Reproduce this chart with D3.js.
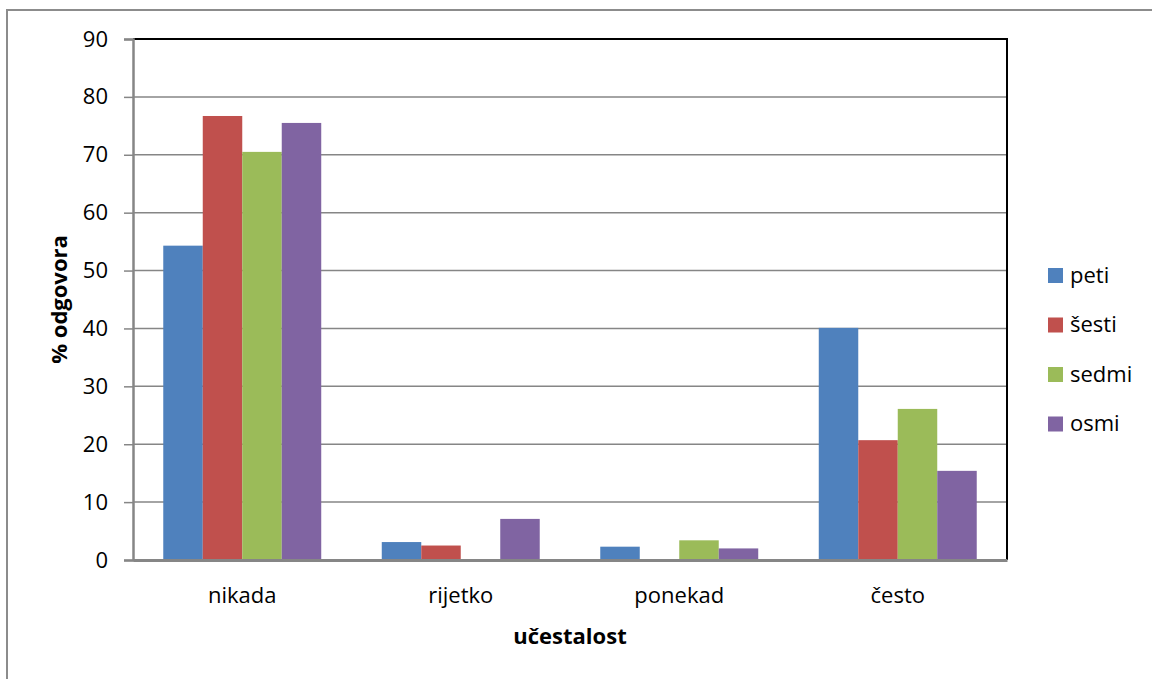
<!DOCTYPE html>
<html><head><meta charset="utf-8">
<script src="https://cdn.jsdelivr.net/npm/d3@7"></script>
<style>body{margin:0;background:#fff}svg{display:block}text{font-family:"Open Sans","Noto Sans",sans-serif;fill:#000}</style>
</head><body><svg width="1152" height="679"></svg>
<script>
const categories = ["nikada", "rijetko", "ponekad", "često"];
const seriesNames = ["peti", "šesti", "sedmi", "osmi"];
const peti  = [54.3, 3.1, 2.3, 40.1];
const sesti = [76.7, 2.5, 0, 20.7];
const sedmi = [70.5, 0, 3.4, 26.1];
const osmi  = [75.5, 7.1, 2.0, 15.4];
const yTicks = [0, 10, 20, 30, 40, 50, 60, 70, 80, 90];
const colors = ["#4F81BD", "#C0504D", "#9BBB59", "#8064A2"];
const seriesValues = [peti, sesti, sedmi, osmi];

const FS = "22px";
const svg = d3.select("svg");
svg.append("rect").attr("x", 7).attr("y", 10).attr("width", 1160).attr("height", 690)
  .attr("fill", "none").attr("stroke", "#8c8c8c").attr("stroke-width", 2);

const L = 133, R = 1007, T = 39, B = 560;
const x0 = d3.scaleBand().domain(categories).range([L, R]).paddingInner(0.277).paddingOuter(0.1385);
const x1 = d3.scaleBand().domain(seriesNames).range([0, x0.bandwidth()]);
const y = d3.scaleLinear().domain([0, 90]).range([B, T]);

// gridlines
svg.append("g").selectAll("line").data(yTicks.filter(d => d > 0 && d < 90)).join("line")
  .attr("x1", L).attr("x2", R).attr("y1", d => y(d)).attr("y2", d => y(d))
  .attr("stroke", "#868686").attr("stroke-width", 1.5);

// bars
const g = svg.append("g");
seriesNames.forEach((s, i) => {
  g.selectAll(null).data(categories).join("rect")
    .attr("x", c => x0(c) + x1(s))
    .attr("width", x1.bandwidth())
    .attr("y", (c, j) => y(seriesValues[i][j]))
    .attr("height", (c, j) => B - y(seriesValues[i][j]))
    .attr("fill", colors[i]);
});

// plot border top/right
svg.append("path").attr("d", `M${L},${T}H${R}V${B}`).attr("fill", "none").attr("stroke", "#000").attr("stroke-width", 2);

// y axis
const ya = svg.append("g").attr("transform", `translate(${L},0)`)
  .call(d3.axisLeft(y).tickValues(yTicks).tickSize(9).tickPadding(16));
ya.select(".domain").attr("stroke", "#868686").attr("stroke-width", 2.5);
ya.selectAll(".tick line").attr("stroke", "#868686").attr("stroke-width", 1.5);
ya.selectAll(".tick text").style("font-size", FS).style("font-family", "'Open Sans',sans-serif").attr("fill", "#000");

// x axis
const xa = svg.append("g").attr("transform", `translate(0,${B})`)
  .call(d3.axisBottom(x0).tickSize(0).tickPadding(27));
xa.select(".domain").attr("stroke", "#868686").attr("stroke-width", 3);
xa.selectAll(".tick text").style("font-size", FS).style("font-family", "'Open Sans',sans-serif").attr("fill", "#000");

// axis titles
svg.append("text").attr("x", (L + R) / 2).attr("y", 644).attr("text-anchor", "middle")
  .style("font-size", FS).style("font-weight", "bold").text("učestalost");
svg.append("text").attr("transform", `translate(67,${(T + B) / 2}) rotate(-90)`).attr("text-anchor", "middle")
  .style("font-size", FS).style("font-weight", "bold").text("% odgovora");

// legend
const lg = svg.append("g");
seriesNames.forEach((s, i) => {
  const cy = 275 + i * 49.5;
  lg.append("rect").attr("x", 1048).attr("y", cy - 7).attr("width", 15).attr("height", 15).attr("fill", colors[i]);
  lg.append("text").attr("x", 1070).attr("y", cy).attr("dy", "0.35em").style("font-size", FS).text(s);
});
</script></body></html>
